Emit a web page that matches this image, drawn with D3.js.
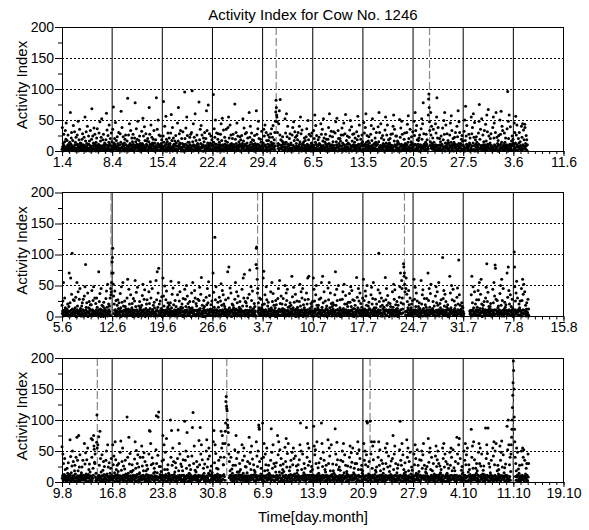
<!DOCTYPE html>
<html>
<head>
<meta charset="utf-8">
<script src="https://cdn.jsdelivr.net/npm/d3@7"></script>
<style>
body { margin: 0; background: #fff; }
text { font-family: "Liberation Sans", Arial, Helvetica, sans-serif; }
</style>
</head>
<body>
<div id="chart"></div>
<script>
// hourly readings, one row per day
var stepsPerDay = 24;

// panel 1: 1.4 - 5.6
var activity1 = [
3,38,7,0,12,4,27,9,1,15,6,33,2,19,45,5,4,17,9,1,26,6,11,3,
0,8,14,3,62,5,11,21,30,2,8,4,17,6,41,1,7,2,31,10,5,14,0,22,
4,10,1,26,11,6,48,0,7,18,3,35,9,13,2,6,12,3,8,19,1,28,6,10,
1,5,22,8,9,55,3,16,0,31,7,12,5,40,10,2,2,24,11,5,16,0,9,33,
6,3,1,19,68,0,8,24,4,13,9,37,4,2,27,11,9,0,14,6,21,3,36,8,
2,7,11,0,29,5,3,47,9,16,1,22,6,52,8,4,5,18,2,27,10,7,1,13,
8,4,0,18,10,61,2,34,5,9,25,3,7,14,42,1,11,3,20,8,0,29,4,15,
0,6,35,2,71,9,13,4,20,11,3,46,6,8,17,3,1,23,6,12,9,2,30,5,
3,10,2,28,5,14,64,0,5,38,7,11,1,23,9,4,8,13,0,19,4,26,10,2,
5,2,16,8,85,3,0,26,9,6,44,1,12,10,33,4,3,9,21,1,15,6,27,11,
2,7,0,21,3,78,9,15,5,36,6,11,19,1,48,8,10,4,17,7,24,0,12,3,
9,0,4,32,6,12,2,53,10,24,3,8,39,5,17,1,6,28,2,11,16,9,1,20,
0,3,7,15,70,5,27,11,10,1,42,5,8,22,2,13,2,10,19,4,33,7,13,0,
6,0,18,9,86,3,4,35,1,12,50,7,10,26,7,2,9,1,24,6,12,3,18,8,
4,1,3,24,80,8,14,6,40,2,9,0,56,11,19,4,0,15,7,29,2,11,5,21,
1,9,12,2,29,5,59,3,17,7,38,0,6,21,10,3,11,4,16,9,1,25,8,13,
3,8,0,45,2,16,70,5,8,28,11,13,4,33,6,0,5,20,3,12,7,31,0,10,
7,2,10,95,20,0,11,37,3,6,55,9,25,4,14,1,8,2,14,6,22,10,4,27,
2,5,30,8,97,3,15,0,44,10,9,22,6,2,60,1,3,17,9,1,26,5,12,7,
11,3,0,79,7,18,4,35,1,12,41,5,6,26,9,0,10,6,21,0,15,8,30,2,
4,1,20,9,65,6,33,4,13,2,74,10,8,5,28,1,1,13,4,24,9,2,18,11,
2,8,1,91,14,3,36,7,22,11,50,2,5,11,29,6,7,0,19,5,28,10,3,14,
1,6,10,27,4,44,0,17,8,53,3,10,2,34,7,0,4,22,11,2,16,7,35,9,
5,1,14,9,38,3,55,3,21,6,9,42,11,2,26,4,12,1,8,20,3,27,6,10,
3,10,1,76,7,19,0,30,12,4,45,8,5,24,2,9,6,15,2,11,23,0,9,18,
0,7,25,4,12,9,52,3,16,6,37,1,9,11,28,2,2,9,30,7,13,4,21,1,
8,0,3,62,5,22,10,40,1,14,6,29,6,2,18,11,10,3,17,8,0,25,5,12,
0,4,9,65,2,27,6,11,36,3,48,10,20,3,7,1,5,19,1,14,9,32,3,8,
5,0,13,8,35,2,24,10,42,1,8,6,30,4,17,0,0,11,26,6,17,2,10,22,
9,1,6,28,3,14,36,11,9,22,3,41,7,12,5,18,2,30,8,48,63,82,70,58,
55,47,30,8,12,4,44,2,65,10,26,83,5,18,4,9,3,16,7,23,11,1,14,6,
1,7,2,52,11,29,4,14,60,6,23,0,40,8,11,3,9,2,20,5,28,10,0,13,
10,2,5,26,4,38,0,9,47,7,17,1,31,3,22,6,1,12,8,25,4,18,7,30,
2,8,1,40,11,15,5,55,3,28,6,0,34,9,12,4,11,5,15,2,21,9,3,17,
0,6,23,2,36,10,11,3,49,7,18,1,27,4,9,2,4,24,0,13,8,29,6,10,
7,3,0,33,9,20,5,58,1,14,41,11,5,25,2,8,8,1,18,10,3,22,12,5,
0,10,2,44,6,27,8,1,35,4,16,9,52,3,21,5,2,14,6,27,11,0,19,8,
2,6,11,19,3,38,0,12,60,8,24,4,9,7,32,1,7,10,23,3,15,5,31,1,
9,2,3,29,5,47,1,15,10,53,6,7,0,33,20,4,12,4,9,20,2,16,8,26,
1,8,37,4,13,0,26,10,45,3,10,6,28,2,59,7,0,17,5,11,24,7,3,13,
5,1,22,11,34,3,49,3,8,7,39,0,16,9,27,2,10,6,28,1,14,9,21,4,
2,9,4,31,6,18,0,56,10,24,11,3,42,7,5,1,3,19,8,12,0,26,10,15,
0,3,8,46,2,29,11,9,38,5,60,1,14,6,25,10,6,2,16,9,23,4,13,7,
7,0,27,4,41,9,17,3,52,1,6,10,36,2,12,5,11,21,3,14,8,30,1,10,
3,11,2,39,0,15,62,6,30,3,8,9,44,5,21,1,5,9,25,2,12,6,18,0,
10,0,34,6,55,2,13,8,26,4,42,1,7,11,18,3,1,13,7,20,10,3,27,9,
1,5,9,28,3,40,7,58,0,16,35,10,9,2,24,6,8,24,4,11,16,0,14,5,
4,2,11,51,6,22,0,37,8,11,48,3,27,9,4,1,2,6,19,10,29,7,12,3,
3,8,1,30,10,43,5,14,57,2,20,7,6,4,35,0,10,15,1,23,5,13,9,31,
6,2,9,48,1,25,11,62,3,33,10,4,41,7,18,1,4,11,17,0,21,8,26,6,
0,10,2,36,5,52,19,8,44,3,78,6,28,11,8,1,7,3,14,9,27,2,11,18,
2,7,4,58,84,92,70,47,33,9,15,62,26,5,40,12,8,3,21,10,35,6,14,2,
8,3,1,44,10,29,6,55,86,2,21,9,38,4,9,1,3,20,10,5,15,1,24,8,
1,11,2,37,3,18,7,49,5,27,62,0,13,8,42,4,9,6,28,12,2,17,4,13,
3,1,9,26,6,45,0,14,57,10,33,4,7,2,20,11,0,14,8,22,11,5,30,7,
6,2,10,40,3,23,8,65,1,12,47,5,30,9,5,0,12,4,19,1,25,9,16,3,
2,9,3,32,7,50,0,17,72,4,24,11,41,6,9,1,5,10,2,27,8,13,0,21,
10,2,5,55,2,28,8,38,1,13,60,3,22,9,46,0,1,18,11,6,23,3,14,9,
0,7,2,29,11,48,75,4,19,3,35,9,8,6,52,1,8,5,26,10,2,15,7,33,
3,10,1,43,5,16,8,58,2,31,11,6,67,9,24,4,11,1,13,20,4,28,9,6,
8,2,0,38,6,55,3,21,45,10,9,1,30,5,62,7,3,22,7,12,0,17,10,25,
0,9,4,50,2,27,11,64,6,14,40,3,33,8,6,1,6,11,29,2,14,8,21,4,
5,3,10,36,7,96,0,48,20,4,58,9,11,2,39,6,10,3,16,9,24,1,12,19,
1,8,3,45,11,30,5,13,56,2,26,7,42,10,8,1,2,20,6,13,30,7,4,15,
9,2,6,40,1,22,4,44,10,9,34,3,18,7,43,38,7,12,3,25,9,18,1,10
];

// panel 2: 5.6 - 15.8 (null = no reading)
var activity2 = [
18,5,9,25,1,55,7,10,3,30,11,14,2,6,8,4,2,12,7,20,4,9,1,16,
70,3,8,22,1,62,10,5,36,2,102,12,7,4,27,9,5,26,10,3,14,8,31,0,
6,0,55,11,17,4,40,8,9,2,28,5,45,10,13,1,9,3,17,6,22,1,11,28,
3,9,1,33,6,48,2,84,11,15,4,22,8,7,38,0,1,14,8,24,5,12,3,19,
10,2,19,5,42,1,11,8,26,3,48,9,6,4,30,7,7,21,2,11,30,6,15,4,
1,8,4,72,11,24,3,37,6,12,0,45,9,5,18,2,10,5,16,0,23,9,2,13,
7,3,10,29,2,41,6,15,1,52,9,4,20,11,5,17,8,30,2,45,35,40,55,70,
88,95,110,70,52,33,5,20,10,41,3,11,8,26,6,1,9,18,4,27,2,13,7,22,
4,11,2,37,7,14,0,48,9,23,8,3,55,6,17,10,3,10,25,1,16,8,12,5,
9,1,30,5,60,3,12,10,44,7,20,2,6,11,35,4,8,2,14,21,6,11,0,29,
2,8,6,25,10,58,1,16,4,39,11,9,3,47,7,5,0,17,9,4,24,12,3,15,
11,4,7,18,1,34,9,52,3,11,6,28,10,43,5,0,6,13,2,20,9,27,5,10,
3,10,2,40,8,21,5,13,56,1,30,7,8,4,45,11,11,4,18,7,1,23,14,6,
6,2,9,58,4,27,11,72,1,15,38,8,78,3,20,5,2,25,10,5,13,8,32,1,
0,7,62,10,33,3,17,6,49,2,10,9,27,5,41,11,9,6,15,22,3,12,7,18,
8,3,11,22,6,57,1,14,9,36,4,8,46,2,19,7,4,11,1,26,10,5,16,8,
5,10,1,35,7,12,3,55,11,25,6,40,6,9,15,2,12,2,20,7,14,0,29,9,
2,8,4,44,10,28,6,16,1,50,9,11,33,3,21,7,5,15,8,3,24,11,6,13,
9,0,38,6,14,11,55,2,24,8,9,4,42,10,30,3,1,21,10,17,5,9,2,28,
4,11,7,26,3,47,10,13,1,36,5,63,5,8,18,0,8,4,13,26,0,16,10,6,
10,1,6,31,9,19,2,45,11,22,4,56,10,7,34,3,3,12,7,19,11,2,25,9,
2,9,70,4,39,7,15,11,128,1,27,6,48,3,11,8,10,6,23,1,15,8,4,31,
5,3,10,25,1,53,8,18,4,42,11,9,35,6,20,2,7,16,2,12,27,5,10,3,
8,0,6,72,11,30,3,80,9,14,5,46,7,10,38,1,0,9,20,11,4,18,6,14,
3,10,2,28,7,55,5,12,11,40,1,22,5,9,33,6,11,3,15,8,24,1,12,7,
11,4,8,44,2,17,9,62,3,30,6,68,9,1,24,10,4,22,6,17,2,10,30,5,
0,7,5,36,10,75,3,15,8,48,2,26,11,6,41,4,9,1,13,5,21,7,16,3,
9,1,84,110,112,78,60,38,45,7,22,10,14,3,30,5,6,11,28,2,14,9,4,19,
6,11,62,2,73,8,20,4,35,10,11,1,48,7,27,3,2,17,8,23,5,12,1,10,
10,0,5,40,9,14,3,55,11,24,6,37,6,2,18,8,10,5,14,0,26,8,19,4,
1,9,7,29,4,45,10,12,2,58,8,21,8,11,33,3,3,20,9,13,6,29,2,11,
7,2,11,50,5,19,1,38,9,26,3,44,10,6,15,4,8,1,16,7,22,4,12,18,
3,8,65,6,32,10,14,2,47,11,23,5,5,9,36,0,5,12,3,25,10,15,7,1,
11,1,4,24,9,52,6,17,3,40,10,11,30,7,45,2,0,19,11,6,14,2,27,9,
5,10,3,38,7,20,11,62,1,28,4,65,7,9,13,6,12,7,21,3,16,9,1,24,
2,6,62,9,44,1,25,8,12,5,35,10,50,3,18,11,4,14,6,18,0,11,28,7,
8,4,10,30,3,55,6,15,11,65,2,22,9,7,40,1,9,2,25,10,5,13,3,17,
0,11,6,46,9,27,3,55,8,14,5,38,6,10,21,4,1,16,8,22,12,4,19,6,
9,2,35,7,72,10,18,4,44,1,26,11,11,6,50,3,7,10,3,14,27,0,11,5,
4,9,1,28,11,40,5,13,7,52,3,20,7,10,34,8,11,5,20,2,9,16,6,23,
10,3,7,37,2,23,9,48,4,16,11,42,9,1,27,6,3,13,0,26,7,12,18,2,
2,8,5,63,10,31,1,14,9,45,6,25,5,11,38,3,8,21,10,4,15,1,9,30,
7,11,60,3,26,9,12,6,41,2,33,10,18,4,50,8,2,6,17,11,23,5,13,0,
1,6,10,35,4,47,8,20,11,29,3,55,8,5,14,9,10,3,28,8,14,7,20,4,
9,3,2,43,11,102,7,24,5,38,10,16,6,1,30,4,5,18,1,12,6,25,9,15,
5,10,8,63,3,27,11,45,2,18,9,34,10,6,22,7,0,11,7,21,3,16,2,10,
11,2,6,40,9,15,4,52,10,28,1,43,7,8,19,3,12,4,24,9,13,0,18,6,
3,9,31,7,48,5,70,11,22,4,58,45,30,12,6,20,85,80,65,70,52,40,8,3,
45,62,8,36,2,24,10,14,6,42,3,19,5,11,30,9,7,14,2,20,10,5,26,1,
6,1,10,60,7,28,4,47,11,16,8,38,9,2,25,5,9,3,16,12,0,22,6,13,
10,4,3,58,9,20,6,35,1,43,11,13,6,8,29,2,4,19,8,1,15,10,29,5,
2,11,70,5,26,8,45,3,15,10,37,7,52,4,11,9,11,6,13,24,3,9,2,17,
7,3,9,33,1,48,10,22,6,40,2,18,8,11,55,4,1,10,21,5,14,7,27,8,
4,10,6,95,11,29,2,42,8,17,5,36,10,3,24,9,6,15,3,11,19,0,12,4,
11,5,1,65,8,38,4,14,10,50,7,27,6,9,44,2,10,2,25,8,13,6,18,3,
3,9,7,31,2,46,11,20,5,91,10,35,9,4,18,6,3,12,9,22,1,16,5,14,
8,2,5,null,null,null,null,null,null,null,null,null,null,null,null,null,null,null,null,null,null,null,9,4,
6,10,3,35,9,65,1,22,11,48,4,14,7,8,40,2,7,20,4,11,2,27,9,15,
10,3,42,7,27,11,55,5,13,2,36,9,60,6,20,1,0,13,8,18,6,10,24,3,
4,8,11,30,2,47,6,85,10,24,3,39,8,11,16,7,12,5,16,2,21,9,1,11,
9,1,5,44,10,22,7,55,3,33,11,83,78,4,28,10,4,9,26,7,14,3,17,6,
2,11,8,37,6,50,4,18,9,60,1,26,6,10,45,3,10,1,12,23,5,15,8,19,
7,4,10,70,3,31,9,80,5,42,11,20,9,2,35,8,2,16,6,10,28,4,13,0,
5,9,2,104,80,48,11,25,7,38,4,57,7,10,30,3,8,11,3,20,9,14,2,25,
10,3,8,45,6,26,1,60,11,36,5,52,10,4,40,9,5,18,10,1,12,22,7,4,
6,28,3,12,1
];

// panel 3: 9.8 - 19.10
var activity3 = [
57,6,10,45,2,30,8,12,4,38,11,20,3,7,9,1,5,22,9,14,3,31,7,12,
5,9,3,68,11,41,1,15,7,26,4,50,6,10,33,2,10,2,18,27,6,13,1,40,
8,2,72,6,35,10,18,3,75,9,24,1,44,5,11,7,3,15,8,24,11,4,35,9,
3,11,7,62,4,29,9,47,2,13,6,36,8,10,55,1,12,6,20,1,29,9,16,3,
10,4,70,8,40,2,68,6,22,11,75,58,53,32,30,45,8,2,14,5,64,108,55,3,
60,9,6,73,11,27,3,82,8,38,1,16,6,10,44,4,1,19,10,33,4,12,25,7,
7,1,11,35,5,50,10,13,3,60,8,24,9,2,31,6,9,14,3,22,8,38,5,11,
4,10,60,3,28,7,42,9,15,1,65,11,36,5,20,8,2,27,12,6,17,1,30,10,
9,2,5,48,10,66,4,19,8,33,3,55,7,11,26,1,11,4,21,9,35,7,13,2,
1,7,105,11,40,3,14,9,72,5,29,2,46,10,17,6,6,16,2,28,10,5,19,8,
11,4,8,37,2,65,10,22,6,51,1,12,30,9,44,3,0,24,13,7,15,3,40,9,
6,10,3,58,9,26,5,40,11,18,7,47,8,2,33,4,10,3,18,12,27,6,1,21,
2,8,11,45,4,83,7,82,1,62,10,28,10,5,39,9,4,30,7,14,2,22,9,16,
10,3,6,52,107,30,9,15,4,43,105,8,113,1,25,7,8,12,25,3,17,10,6,34,
5,11,75,2,36,8,60,3,20,10,48,6,12,9,70,1,1,20,9,28,5,14,11,3,
8,4,10,100,6,40,2,83,11,27,5,55,9,3,33,7,12,7,16,2,31,9,23,6,
3,9,1,38,10,84,7,18,4,62,11,45,6,8,29,2,5,25,11,4,18,1,36,10,
11,6,4,98,2,35,9,50,5,22,10,80,11,1,41,7,9,2,14,27,7,12,4,20,
1,10,8,42,5,88,3,112,9,30,6,58,8,11,19,4,3,16,8,33,10,5,24,1,
7,3,11,67,9,28,2,88,10,45,4,60,7,5,36,8,11,6,22,9,14,2,29,7,
4,9,6,50,1,68,10,24,7,37,3,14,55,11,42,2,0,18,10,4,26,12,7,15,
10,1,5,65,8,83,4,31,11,60,6,46,10,2,22,9,8,13,3,21,6,35,9,2,
6,11,3,40,9,82,2,55,10,75,5,62,28,28,12,40,9,3,62,82,95,130,138,122,
118,115,100,92,88,80,60,45,7,33,10,18,6,11,40,3,4,21,9,14,2,27,10,6,
2,8,10,52,4,27,11,75,6,38,1,16,9,5,48,10,12,5,17,30,8,3,20,11,
9,3,7,60,11,35,5,14,2,55,8,42,7,10,25,4,2,24,10,6,15,9,33,4,
1,10,4,72,6,30,9,48,3,20,11,58,11,7,37,5,7,11,28,3,19,12,1,16,
8,2,11,65,5,42,7,25,10,50,3,92,88,85,33,6,10,4,13,22,6,38,9,2,
95,9,4,40,10,62,1,18,8,45,6,28,8,11,55,3,3,19,7,12,27,5,14,10,
5,11,7,35,2,86,10,48,4,22,9,60,10,3,30,8,9,1,25,8,16,4,31,11,
10,4,75,9,44,6,65,1,16,11,52,7,27,2,38,5,6,14,3,20,10,29,2,17,
3,8,10,56,7,33,11,70,2,24,5,46,7,9,62,1,11,8,18,5,24,1,12,35,
6,1,9,48,11,28,4,55,10,38,3,13,9,7,42,8,2,26,9,14,4,19,7,28,
11,5,3,36,8,60,2,95,9,50,6,20,6,10,45,4,10,3,15,30,8,12,22,5,
2,10,7,88,4,40,11,62,5,27,9,55,11,1,33,6,5,17,1,11,25,9,3,20,
8,3,11,90,6,58,1,44,10,52,4,30,8,9,65,2,12,6,23,4,14,31,10,2,
5,9,2,38,10,95,7,62,3,25,11,48,7,6,35,10,1,20,8,16,3,27,11,9,
1,7,10,68,4,30,9,55,6,42,2,18,10,11,60,3,9,12,4,29,7,18,2,14,
9,4,6,86,11,45,3,28,8,64,1,36,9,5,20,7,4,24,11,2,19,8,35,6,
3,10,8,50,2,33,11,62,5,15,7,44,6,9,27,1,10,7,17,13,3,26,9,1,
11,2,4,40,9,58,6,24,10,47,3,32,11,8,55,5,3,15,5,22,12,6,30,10,
6,8,1,30,10,46,5,65,3,20,11,52,8,2,38,9,8,1,20,9,27,4,14,18,
2,11,9,62,5,35,7,50,4,28,10,3,44,98,10,95,6,25,2,13,10,33,7,11,
98,5,3,45,8,65,1,22,11,58,6,36,9,7,65,2,12,4,19,7,16,1,24,9,
4,9,10,40,2,65,8,27,5,52,11,18,10,3,35,6,2,11,30,5,14,9,21,3,
7,1,6,55,11,30,3,48,9,62,4,24,7,10,42,8,9,17,6,26,3,12,8,34,
9,6,2,38,10,75,5,20,7,45,1,58,11,4,30,10,5,2,15,10,22,7,28,4,
3,10,8,52,4,98,11,35,2,27,9,62,8,6,44,1,11,20,3,14,9,31,6,16,
11,2,5,68,9,40,7,55,3,18,10,33,6,1,48,7,1,13,8,24,5,19,10,2,
6,8,10,45,1,28,4,60,11,38,5,14,10,9,52,3,7,27,12,4,17,3,36,9,
2,11,3,35,7,50,9,22,6,44,10,62,9,4,27,8,10,5,16,21,1,14,8,25,
10,4,9,70,5,32,1,48,8,55,3,20,7,11,40,6,3,18,9,6,30,11,2,13,
5,9,1,42,11,58,6,25,10,36,2,50,11,7,30,4,8,12,26,3,15,7,20,1,
8,3,11,55,4,38,10,62,2,24,7,45,8,9,33,1,12,2,14,29,6,10,4,22,
1,10,6,48,9,27,3,55,11,40,5,18,6,10,52,7,4,23,7,11,18,1,33,9,
11,5,2,72,10,45,8,30,4,60,9,70,10,3,38,6,9,6,19,2,25,13,5,15,
4,7,10,50,3,35,11,62,6,28,1,44,9,8,55,2,1,16,10,28,4,20,8,12,
9,2,5,85,7,40,10,58,3,22,11,65,7,4,36,10,11,3,22,7,14,30,2,18,
6,11,3,48,10,62,1,30,9,55,4,26,11,7,45,5,5,13,1,19,9,26,12,6,
2,8,10,87,5,38,7,60,11,46,3,87,8,9,30,1,10,24,6,15,3,11,35,8,
10,4,6,55,1,42,9,65,3,28,11,50,6,5,62,8,2,9,18,4,27,7,13,20,
3,9,11,58,7,35,2,48,10,66,5,24,10,8,44,4,7,15,3,23,10,1,29,11,
8,1,5,90,10,52,6,100,2,60,5,28,9,40,3,17,45,60,72,85,100,120,140,160,
195,180,150,105,85,65,40,9,30,3,18,55,8,11,48,2,3,21,10,14,6,27,9,1,
5,10,3,50,7,28,11,55,4,40,9,52,9,1,35,6,9,13,4,22,7,30,11,2,
2,45,8,30
];

// marked days (dashed lines), in days from the panel start
var events1 = [29.9, 51.3];
var events2 = [6.84, 27.3, 47.8];
var events3 = [4.93, 23.0, 43.0, 62.95];

// tick labels, one per week
var xLabels1 = ["1.4", "8.4", "15.4", "22.4", "29.4", "6.5", "13.5", "20.5", "27.5", "3.6", "11.6"];
var xLabels2 = ["5.6", "12.6", "19.6", "26.6", "3.7", "10.7", "17.7", "24.7", "31.7", "7.8", "15.8"];
var xLabels3 = ["9.8", "16.8", "23.8", "30.8", "6.9", "13.9", "20.9", "27.9", "4.10", "11.10", "19.10"];
var yTicks = [0, 50, 100, 150, 200];
var yMinor = [25, 75, 125, 175];
var yGrid = [50, 100, 150];

var svgWidth = 589;
var svgHeight = 530;
var margin = {left: 62, right: 25.5};
var panelTops = [27, 192.5, 358];
var panelHeight = 124;
var totalDays = 70;

var svg = d3.select("#chart")
    .append("svg")
    .attr("width", svgWidth)
    .attr("height", svgHeight);

svg.append("rect")
    .attr("width", svgWidth)
    .attr("height", svgHeight)
    .attr("fill", "#fff");

var xScale = d3.scaleLinear()
    .domain([0, totalDays])
    .range([margin.left, svgWidth - margin.right]);

var weekDays = d3.range(0, totalDays + 1, 7);
var allDays = d3.range(0, totalDays + 1);

var panels = [
    {values: activity1, events: events1, labels: xLabels1},
    {values: activity2, events: events2, labels: xLabels2},
    {values: activity3, events: events3, labels: xLabels3}
];

panels.forEach(function(p, k) {
    var top = panelTops[k];
    var bottom = top + panelHeight;
    var yScale = d3.scaleLinear().domain([0, 200]).range([bottom, top]);
    var g = svg.append("g");

    // dotted horizontal grid
    g.selectAll(".hgrid")
        .data(yGrid)
        .enter()
        .append("line")
        .attr("x1", xScale(0))
        .attr("x2", xScale(totalDays))
        .attr("y1", d => yScale(d))
        .attr("y2", d => yScale(d))
        .attr("stroke", "#000")
        .attr("stroke-dasharray", "2,2")
        .attr("shape-rendering", "crispEdges");

    // week lines
    g.selectAll(".vline")
        .data(weekDays.slice(1, -1))
        .enter()
        .append("line")
        .attr("x1", d => xScale(d))
        .attr("x2", d => xScale(d))
        .attr("y1", top)
        .attr("y2", bottom)
        .attr("stroke", "#000")
        .attr("stroke-width", 1);

    // marked events
    g.selectAll(".event")
        .data(p.events)
        .enter()
        .append("line")
        .attr("x1", d => xScale(d))
        .attr("x2", d => xScale(d))
        .attr("y1", top)
        .attr("y2", bottom)
        .attr("stroke", "#888")
        .attr("stroke-width", 1.2)
        .attr("stroke-dasharray", "8,3");

    // readings
    var pts = p.values
        .map(function(v, i) { return {t: i / stepsPerDay, v: v}; })
        .filter(d => d.v !== null);

    g.selectAll("circle")
        .data(pts)
        .enter()
        .append("circle")
        .attr("cx", d => xScale(d.t))
        .attr("cy", d => yScale(d.v))
        .attr("r", 1.5)
        .attr("fill", "#000");

    // frame
    g.append("rect")
        .attr("x", xScale(0))
        .attr("y", top)
        .attr("width", xScale(totalDays) - xScale(0))
        .attr("height", panelHeight)
        .attr("fill", "none")
        .attr("stroke", "#000")
        .attr("shape-rendering", "crispEdges");

    // x axis: daily minor ticks, weekly labels
    g.append("g")
        .attr("transform", `translate(0, ${bottom})`)
        .call(d3.axisBottom(xScale).tickValues(allDays).tickSize(3).tickFormat(""))
        .call(a => a.select(".domain").remove());

    g.append("g")
        .attr("transform", `translate(0, ${bottom})`)
        .call(d3.axisBottom(xScale).tickValues(weekDays).tickSize(5).tickPadding(1)
            .tickFormat((d, i) => p.labels[i]))
        .call(a => a.select(".domain").remove())
        .attr("font-size", 14)
        .attr("font-family", "Liberation Sans, Arial, sans-serif");

    // y axis
    g.append("g")
        .attr("transform", `translate(${xScale(0)}, 0)`)
        .call(d3.axisLeft(yScale).tickValues(yMinor).tickSize(4).tickFormat(""))
        .call(a => a.select(".domain").remove());

    g.append("g")
        .attr("transform", `translate(${xScale(0)}, 0)`)
        .call(d3.axisLeft(yScale).tickValues(yTicks).tickSize(7).tickPadding(1))
        .call(a => a.select(".domain").remove())
        .attr("font-size", 14)
        .attr("font-family", "Liberation Sans, Arial, sans-serif");

    g.append("text")
        .attr("transform", `translate(27, ${(top + bottom) / 2 - 4}) rotate(-90)`)
        .attr("text-anchor", "middle")
        .attr("font-size", 15)
        .text("Activity Index");
});

// title and x label
svg.append("text")
    .attr("x", 313)
    .attr("y", 20)
    .attr("text-anchor", "middle")
    .attr("font-size", 15)
    .text("Activity Index for Cow No. 1246");

svg.append("text")
    .attr("x", 313)
    .attr("y", 522)
    .attr("text-anchor", "middle")
    .attr("font-size", 15)
    .text("Time[day.month]");
</script>
</body>
</html>
